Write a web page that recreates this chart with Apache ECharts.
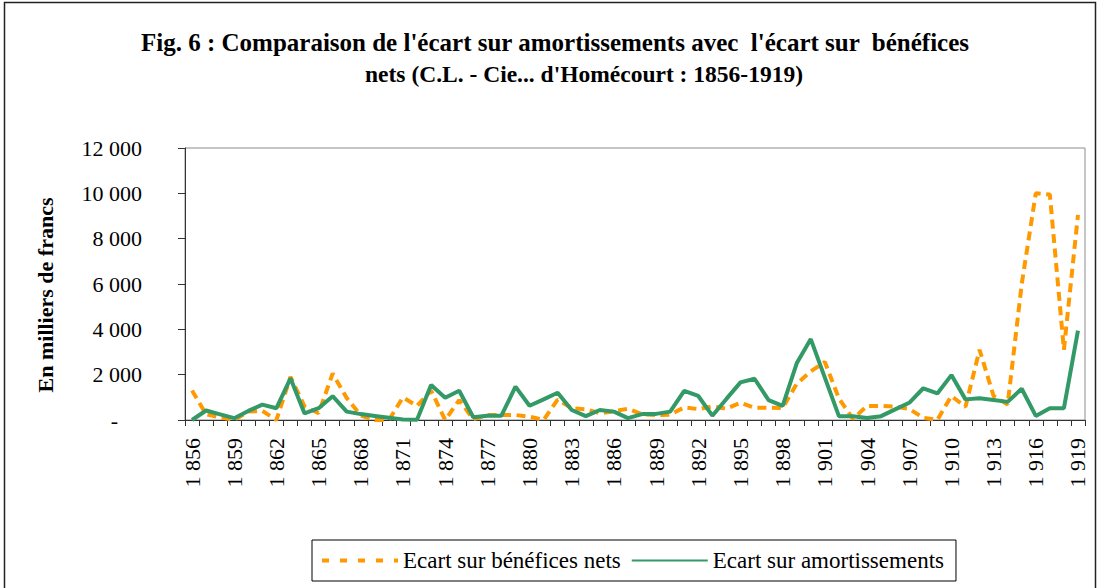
<!DOCTYPE html>
<html>
<head>
<meta charset="utf-8">
<script src="https://cdn.jsdelivr.net/npm/echarts@6/dist/echarts.min.js"></script>
<style>
html,body{margin:0;padding:0;background:#fff;}
#chart{width:1098px;height:588px;}
</style>
</head>
<body>
<div id="chart"></div>
<script>
const years = [1856,1857,1858,1859,1860,1861,1862,1863,1864,1865,1866,1867,1868,1869,1870,1871,
  1872,1873,1874,1875,1876,1877,1878,1879,1880,1881,1882,1883,1884,1885,1886,1887,
  1888,1889,1890,1891,1892,1893,1894,1895,1896,1897,1898,1899,1900,1901,1902,1903,
  1904,1905,1906,1907,1908,1909,1910,1911,1912,1913,1914,1915,1916,1917,1918,1919];

const beneficesNets = [1300,250,120,0,370,400,0,1900,600,300,2050,970,200,0,0,1000,
  620,1300,0,880,30,220,220,220,150,0,900,520,470,300,380,500,
  250,220,230,560,480,600,500,760,540,540,530,1600,2150,2560,950,50,
  620,620,590,490,100,0,1060,580,3100,1060,680,6000,10000,9950,3100,9050];

const amortissements = [0,420,250,80,400,680,520,1840,290,520,1050,370,260,180,100,20,
  10,1540,980,1290,120,190,190,1470,630,910,1200,440,170,440,370,80,
  260,270,370,1290,1060,190,930,1660,1820,880,620,2500,3570,1870,170,170,
  90,170,470,760,1400,1170,1980,910,960,880,800,1380,180,520,520,3940];

const yTickLabels = ['-', '2 000', '4 000', '6 000', '8 000', '10 000', '12 000'];
const titleLine1 = "Fig. 6 : Comparaison de l'écart sur amortissements avec  l'écart sur  bénéfices";
const titleLine2 = "nets (C.L. - Cie... d'Homécourt : 1856-1919)";
const yName = 'En milliers de francs';
const seriesNames = ['Ecart sur bénéfices nets', 'Ecart sur amortissements'];

const FONT = '"Liberation Serif", "Times New Roman", serif';
const chart = echarts.init(document.getElementById('chart'), null, {renderer: 'svg'});

function yearLabel(y) {
  const s = String(y);
  return s.slice(0, 1) + ' ' + s.slice(1);
}

chart.setOption({
  backgroundColor: '#fff',
  animation: false,
  title: [
    {text: titleLine1, left: 555, top: 30, textAlign: 'center', padding: 0,
     textStyle: {fontFamily: FONT, fontWeight: 'bold', fontSize: 25, color: '#000'}},
    {text: titleLine2, left: 584, top: 62, textAlign: 'center', padding: 0,
     textStyle: {fontFamily: FONT, fontWeight: 'bold', fontSize: 23.5, color: '#000'}}
  ],
  graphic: [
    {type: 'rect', shape: {x: 4.5, y: 2.5, width: 1091, height: 600}, silent: true,
     style: {fill: 'none', stroke: '#222', lineWidth: 1.5}},
    {type: 'text', x: 45, y: 295, rotation: Math.PI / 2, silent: true,
     style: {text: yName, fontFamily: FONT, fontWeight: 'bold', fontSize: 22, fill: '#000',
       textAlign: 'center', textVerticalAlign: 'middle'}}
  ],
  legend: {
    left: 312, top: 540,
    padding: [9, 12, 9, 8],
    itemGap: 10,
    itemWidth: 76, itemHeight: 12,
    borderColor: '#000', borderWidth: 1,
    itemStyle: {opacity: 0},
    textStyle: {fontFamily: FONT, fontSize: 23, color: '#000'},
    data: [
      {name: seriesNames[0], itemStyle: {opacity: 0}, lineStyle: {type: [7, 11], width: 4, color: '#FF9900'}},
      {name: seriesNames[1], itemStyle: {opacity: 0}}
    ]
  },
  grid: {left: 185, right: 13, top: 148, bottom: 168, show: true, borderColor: '#8c8c8c', borderWidth: 1,
         containLabel: false, outerBoundsMode: 'none'},
  xAxis: {
    type: 'category',
    data: years,
    boundaryGap: true,
    axisLine: {show: true, lineStyle: {color: '#333', width: 1}},
    axisTick: {show: true, interval: 0, length: 6, lineStyle: {color: '#333'}},
    axisLabel: {interval: 2, rotate: 90, margin: 18, fontFamily: FONT, fontSize: 22, color: '#000',
                formatter: yearLabel},
    splitLine: {show: false}
  },
  yAxis: {
    type: 'value', min: 0, max: 12000, interval: 2000,
    axisLine: {show: true, lineStyle: {color: '#333', width: 1}},
    axisTick: {show: true, length: 7, lineStyle: {color: '#333'}},
    axisLabel: {margin: 43, fontFamily: FONT, fontSize: 22, color: '#000',
      formatter: function (v) {
        const i = Math.round(v / 2000);
        return i === 0 ? '{d|' + yTickLabels[0] + '}' : yTickLabels[i];
      },
      rich: {d: {fontFamily: FONT, fontSize: 22, color: '#000', padding: [0, 24, 0, 0]}}
    },
    splitLine: {show: false}
  },
  series: [
    {name: seriesNames[0], type: 'line', data: beneficesNets, symbol: 'none',
     lineStyle: {color: '#FF9900', width: 4, type: [9, 5.5]}, itemStyle: {color: '#FF9900'}},
    {name: seriesNames[1], type: 'line', data: amortissements, symbol: 'none',
     lineStyle: {color: '#339966', width: 4, type: 'solid'}, itemStyle: {color: '#339966'}}
  ]
});
</script>
</body>
</html>
